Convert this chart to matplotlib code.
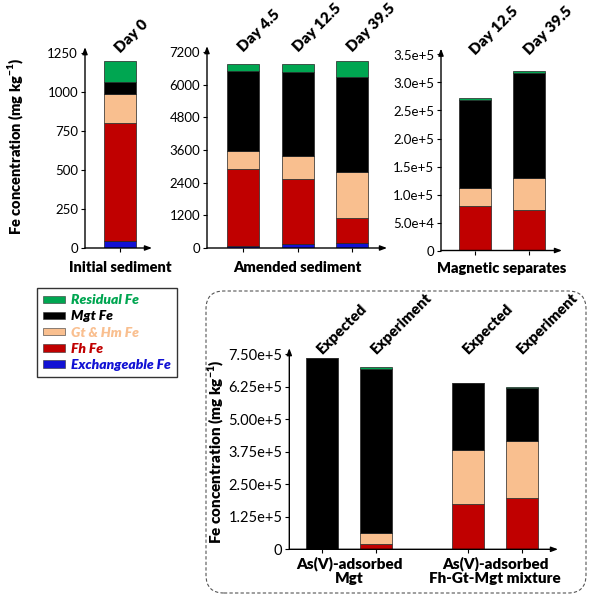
import numpy as np
import matplotlib
matplotlib.use("Agg")
import matplotlib.pyplot as plt
from matplotlib.patches import Patch, FancyBboxPatch

plt.rcParams['font.family'] = ['Lato', 'DejaVu Sans']
plt.rcParams['mathtext.fontset'] = 'custom'
plt.rcParams['mathtext.rm'] = 'Lato'
plt.rcParams['mathtext.bf'] = 'Lato:heavy'

# colours of the Fe pools
res_c = '#00a651'
mgt_c = '#000000'
gthm_c = '#f9bf8f'
fh_c = '#c00000'
exch_c = '#1212d4'

pools = ['Exchangeable Fe', 'Fh Fe', 'Gt & Hm Fe', 'Mgt Fe', 'Residual Fe']
pool_colors = [exch_c, fh_c, gthm_c, mgt_c, res_c]

# initial sediment
init_labels = ['Day 0']
init_exch = [45]
init_fh = [755]
init_gthm = [190]
init_mgt = [75]
init_res = [135]

# amended sediment
amend_labels = ['Day 4.5', 'Day 12.5', 'Day 39.5']
amend_exch = [85, 130, 170]
amend_fh = [2825, 2410, 930]
amend_gthm = [670, 855, 1710]
amend_mgt = [2935, 3075, 3465]
amend_res = [240, 280, 585]

# magnetic separates
mag_labels = ['Day 12.5', 'Day 39.5']
mag_exch = [0, 0]
mag_fh = [79000, 73000]
mag_gthm = [33000, 57000]
mag_mgt = [157000, 187000]
mag_res = [3000, 4000]

# As(V)-adsorbed references
ref_labels = ['Expected', 'Experiment', 'Expected', 'Experiment']
ref_pos = [0, 1, 2.7, 3.7]
ref_groups = ['As(V)-adsorbed\nMgt', 'As(V)-adsorbed\nFh-Gt-Mgt mixture']
ref_group_pos = [0.5, 3.2]
ref_exch = [0, 0, 0, 0]
ref_fh = [0, 20000, 173000, 198000]
ref_gthm = [0, 44000, 208000, 218000]
ref_mgt = [735000, 630000, 256000, 202000]
ref_res = [0, 7000, 0, 5000]

W, H = 596, 600
BOLD = 'heavy'
fig = plt.figure(figsize=(W / 100, H / 100), dpi=100)


def px_axes(left, top, right, bottom):
    return fig.add_axes([left / W, 1 - bottom / H, (right - left) / W, (bottom - top) / H])


def stacked(ax, pos, series, width):
    base = np.zeros(len(pos))
    for vals, col in zip(series, pool_colors):
        vals = np.array(vals, dtype=float)
        ax.bar(pos, vals, width, bottom=base, color=col, edgecolor='#222222',
               linewidth=0.5)
        base += vals


def style(ax, yticks, yticklabels, ymax, pos, top_labels, fs=9.5, tfs=11):
    ax.set_ylim(0, ymax)
    for s in ax.spines.values():
        s.set_visible(False)
    ax.set_yticks(yticks)
    ax.set_yticklabels(yticklabels, fontsize=fs)
    ax.set_xticks(pos)
    ax.set_xticklabels([])
    ax.tick_params(axis='both', length=3, width=0.8, pad=2)
    ax.annotate('', xy=(0, 1.03), xytext=(0, 0), xycoords='axes fraction',
                arrowprops=dict(arrowstyle='-|>,head_length=0.4,head_width=0.15',
                                color='black', lw=1.0, shrinkA=0, shrinkB=0))
    ax.annotate('', xy=(1, 0), xytext=(0, 0), xycoords='axes fraction',
                arrowprops=dict(arrowstyle='-|>,head_length=0.4,head_width=0.15',
                                color='black', lw=1.0, shrinkA=0, shrinkB=0))
    trans = ax.get_xaxis_transform()
    for p, lab in zip(pos, top_labels):
        ax.text(p - 0.05, 1.012, lab, transform=trans, rotation=45,
                rotation_mode='anchor', ha='left', va='center',
                fontsize=tfs, fontweight=BOLD)


ylab = 'Fe concentration (mg kg$^{\\mathbf{-1}}$)'

# panel 1
ax1 = px_axes(85, 53, 152, 248)
stacked(ax1, [0], [init_exch, init_fh, init_gthm, init_mgt, init_res], 0.5)
ax1.set_xlim(-0.55, 0.5)
style(ax1, [0, 250, 500, 750, 1000, 1250], ['0', '250', '500', '750', '1000', '1250'],
      1250, [0], init_labels)
ax1.set_ylabel(ylab, fontsize=10.5, fontweight=BOLD)
ax1.yaxis.set_label_coords(-0.88, 0.52)
ax1.text(0, -0.1, 'Initial sediment', transform=ax1.get_xaxis_transform(),
         ha='center', va='center', fontsize=10.5, fontweight=BOLD)

# panel 2
ax2 = px_axes(207, 52, 387, 248)
pos2 = np.arange(len(amend_labels))
stacked(ax2, pos2, [amend_exch, amend_fh, amend_gthm, amend_mgt, amend_res], 0.59)
ax2.set_xlim(-0.666, 2.64)
style(ax2, [0, 1200, 2400, 3600, 4800, 6000, 7200],
      ['0', '1200', '2400', '3600', '4800', '6000', '7200'], 7200, pos2, amend_labels)
ax2.text(pos2.mean(), -0.1, 'Amended sediment', transform=ax2.get_xaxis_transform(),
         ha='center', va='center', fontsize=10.5, fontweight=BOLD)

# panel 3
ax3 = px_axes(441, 54.5, 562, 250.5)
pos3 = np.arange(len(mag_labels))
stacked(ax3, pos3, [mag_exch, mag_fh, mag_gthm, mag_mgt, mag_res], 0.59)
ax3.set_xlim(-0.62, 1.61)
style(ax3, [0, 5e4, 1e5, 1.5e5, 2e5, 2.5e5, 3e5, 3.5e5],
      ['0', '5.0e+4', '1.0e+5', '1.5e+5', '2.0e+5', '2.5e+5', '3.0e+5', '3.5e+5'],
      3.5e5, pos3, mag_labels)
ax3.text(pos3.mean(), -0.09, 'Magnetic separates', transform=ax3.get_xaxis_transform(),
         ha='center', va='center', fontsize=10.5, fontweight=BOLD)

# bottom panel
ax4 = px_axes(289.3, 354, 558, 549.3)
stacked(ax4, ref_pos, [ref_exch, ref_fh, ref_gthm, ref_mgt, ref_res], 0.593)
ax4.set_xlim(-0.61, 4.36)
style(ax4, [0, 1.25e5, 2.5e5, 3.75e5, 5e5, 6.25e5, 7.5e5],
      ['0', '1.25e+5', '2.50e+5', '3.75e+5', '5.00e+5', '6.25e+5', '7.50e+5'],
      7.5e5, ref_pos, ref_labels, fs=10.5, tfs=11)
ax4.set_ylabel(ylab, fontsize=11, fontweight=BOLD)
ax4.yaxis.set_label_coords(-0.237, 0.5)
for gp, gl in zip(ref_group_pos, ref_groups):
    ax4.text(gp, -0.035, gl, transform=ax4.get_xaxis_transform(), ha='center',
             va='top', fontsize=11, fontweight=BOLD, linespacing=1.15)

# dashed rounded frame
frame = FancyBboxPatch((206 / W, 1 - 593 / H), (586 - 206) / W, (593 - 291) / H,
                       boxstyle='round,pad=0,rounding_size=0.03', transform=fig.transFigure,
                       fill=False, linestyle=(0, (3, 2)), edgecolor='#555555', lw=0.8)
fig.patches.append(frame)

# legend
leg_names = ['Residual Fe', 'Mgt Fe', 'Gt & Hm Fe', 'Fh Fe', 'Exchangeable Fe']
leg_colors = [res_c, mgt_c, gthm_c, fh_c, exch_c]
handles = [Patch(facecolor=c, edgecolor='#333333', linewidth=0.4) for c in leg_colors]
leg = fig.legend(handles, leg_names, loc='upper left',
                 bbox_to_anchor=(37 / W, 1 - 288 / H), borderaxespad=0,
                 frameon=True, fancybox=False,
                 edgecolor='black', handlelength=1.6, handleheight=0.45,
                 handletextpad=0.4, labelspacing=0.3, borderpad=0.45,
                 prop=dict(size=10, weight=BOLD, style='italic'))
leg.get_frame().set_linewidth(1.0)
for t, c in zip(leg.get_texts(), leg_colors):
    t.set_color(c)

fig.savefig('out.png', dpi=100)
